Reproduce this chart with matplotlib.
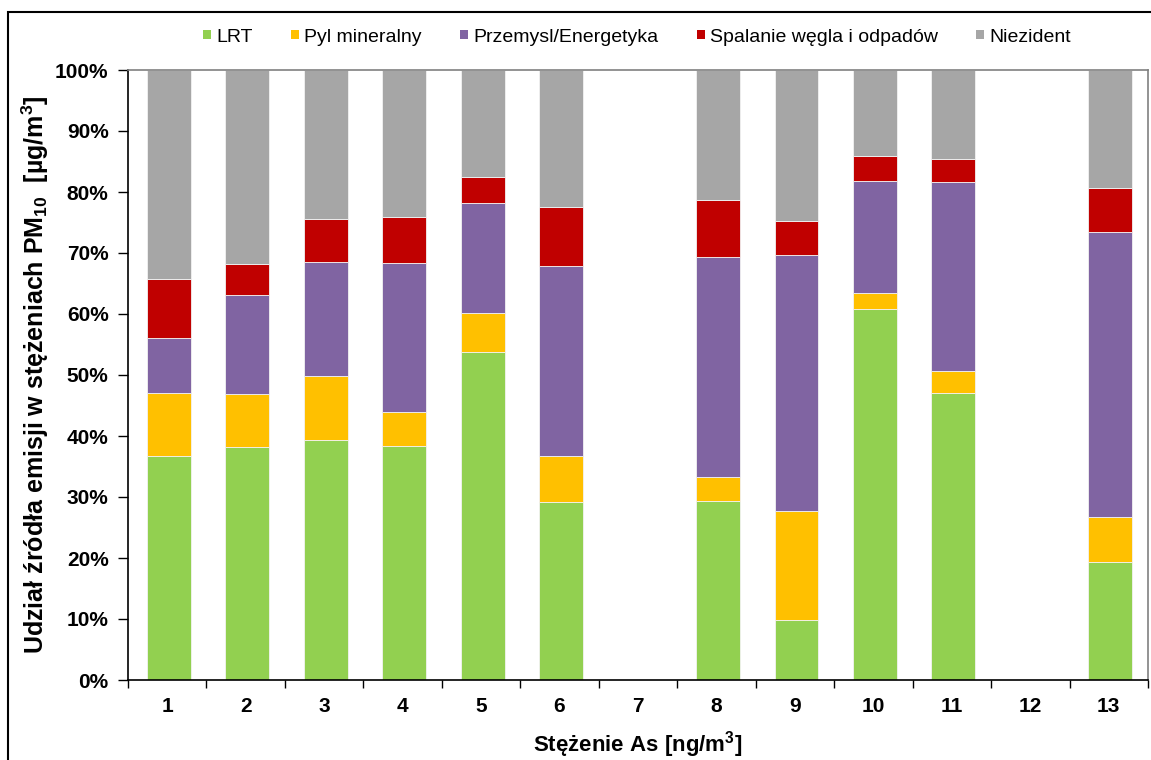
import numpy as np
import matplotlib
matplotlib.use("Agg")
import matplotlib.pyplot as plt
from matplotlib.patches import Patch, Rectangle
from matplotlib.ticker import FixedLocator, FuncFormatter

plt.rcParams['font.family'] = ['Liberation Sans', 'DejaVu Sans']
plt.rcParams['mathtext.fontset'] = 'custom'
plt.rcParams['mathtext.rm'] = 'Liberation Sans'
plt.rcParams['mathtext.bf'] = 'Liberation Sans:bold'
plt.rcParams['mathtext.default'] = 'bf'

# Source shares (%) for each As concentration class; 7 and 12 have no data
categories = [str(i) for i in range(1, 14)]
lrt = [36.8, 38.2, 39.3, 38.4, 53.8, 29.2, 0, 29.3, 9.8, 60.8, 47.0, 0, 19.3]
pyl = [10.3, 8.7, 10.5, 5.5, 6.4, 7.5, 0, 4.0, 17.9, 2.6, 3.7, 0, 7.4]
przemysl = [8.9, 16.2, 18.7, 24.5, 18.0, 31.2, 0, 36.0, 42.0, 18.4, 30.9, 0, 46.7]
spalanie = [9.8, 5.1, 7.1, 7.5, 4.3, 9.6, 0, 9.4, 5.5, 4.1, 3.8, 0, 7.3]
niezident = [34.2, 31.8, 24.4, 24.1, 17.5, 22.5, 0, 21.3, 24.8, 14.1, 14.6, 0, 19.3]

series = [
    ("LRT", lrt, "#92D050"),
    ("Pyl mineralny", pyl, "#FFC000"),
    ("Przemysl/Energetyka", przemysl, "#8064A2"),
    ("Spalanie węgla i odpadów", spalanie, "#C00000"),
    ("Niezident", niezident, "#A6A6A6"),
]

fig = plt.figure(figsize=(11.51, 7.60), dpi=100)
ax = fig.add_axes([128 / 1151, 80 / 760, 1020 / 1151, 610 / 760])

x = np.arange(1, len(categories) + 1)
bottom = np.zeros(len(categories))
for name, vals, color in series:
    vals = np.array(vals, dtype=float)
    ax.bar(x + 0.02, vals, width=0.56, bottom=bottom, color=color,
           edgecolor="#F2F2F2", linewidth=0.6)
    bottom += vals

ax.set_xlim(0.5, len(categories) + 0.5)
ax.set_ylim(0, 100)

# y axis: percent ticks every 10
ax.set_yticks(np.arange(0, 101, 10))
ax.yaxis.set_major_formatter(FuncFormatter(lambda v, p: f"{int(v)}%"))
ax.tick_params(axis="y", direction="out", length=7, width=1, pad=7,
               labelsize=15)

# x axis: labels at centers, tick marks at category boundaries
ax.set_xticks(x)
ax.set_xticklabels(categories)
ax.xaxis.set_minor_locator(FixedLocator(np.arange(0.5, len(categories) + 1, 1)))
ax.tick_params(axis="x", which="major", length=0, pad=12, labelsize=15)
ax.tick_params(axis="x", which="minor", direction="out", length=6, width=1)

for lab in ax.get_xticklabels() + ax.get_yticklabels():
    lab.set_fontweight("bold")

ax.spines["left"].set_color("black")
ax.spines["bottom"].set_color("black")
ax.spines["top"].set_color("#808080")
ax.spines["right"].set_color("#808080")
for s in ax.spines.values():
    s.set_linewidth(1.2)

ax.set_xlabel("Stężenie As [ng/m$^{3}$]", fontsize=16, fontweight="bold",
              labelpad=10)
ax.set_ylabel("Udział źródła emisji w stężeniach PM$_{10}$  [µg/m$^{3}$]",
              fontsize=18, fontweight="bold", labelpad=3)

handles = [Patch(facecolor=c, edgecolor="none", label=n) for n, _, c in series]
fig.legend(handles=handles, loc="center", ncol=5, frameon=False,
           bbox_to_anchor=(637 / 1151, 1 - 37 / 760), fontsize=14,
           handlelength=0.4, handleheight=0.4, handletextpad=0.25,
           columnspacing=2.0)

# outer chart frame
fig.patches.append(Rectangle((8 / 1151, -0.05), 1.2, 1 - 12 / 760 + 0.05,
                             transform=fig.transFigure, fill=False,
                             edgecolor="black", linewidth=1.5))

fig.savefig("out.png", dpi=100)
